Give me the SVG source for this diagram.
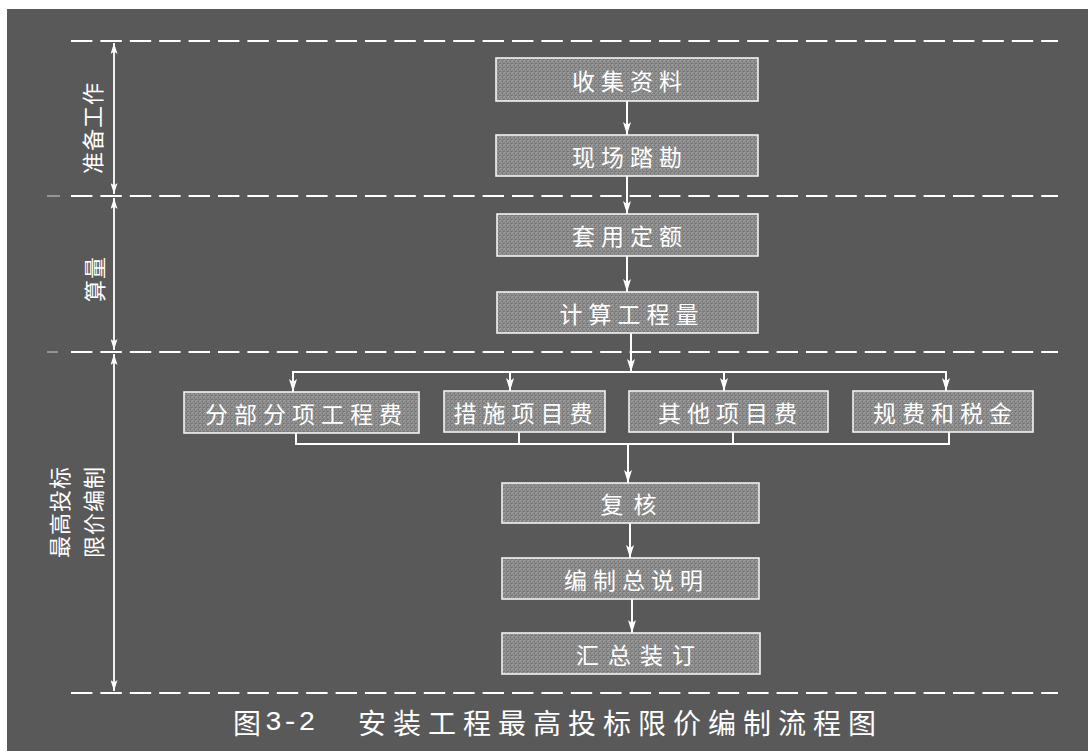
<svg xmlns="http://www.w3.org/2000/svg" width="1088" height="751" viewBox="0 0 1088 751">
<style>
.dash{stroke:#ffffff;stroke-width:2.2;stroke-dasharray:21.4 8;fill:none}
.faint{stroke:#cfcfcf;stroke-width:1;fill:none}
.box{fill:url(#tex);stroke:#f2f2f2;stroke-width:1.6}
.bt{font-family:"Noto Sans CJK SC","Noto Sans CJK JP",sans-serif;font-size:23px;fill:#ffffff;text-anchor:middle;dominant-baseline:central;letter-spacing:6px}
.side{font-family:"Noto Sans CJK SC","Noto Sans CJK JP",sans-serif;font-size:22px;fill:#ffffff;text-anchor:middle;dominant-baseline:central;letter-spacing:1px}
.flow{stroke:#ffffff;stroke-width:2;fill:none}
.dim{stroke:#ffffff;stroke-width:1.8;fill:none}
.cap{font-family:"Noto Sans CJK SC","Noto Sans CJK JP",sans-serif;font-size:28px;fill:#ffffff;dominant-baseline:central}
</style>
<defs>
<pattern id="tex" width="4" height="4" patternUnits="userSpaceOnUse">
<rect width="4" height="4" fill="#8a8a8a"/>
<rect x="0" y="0" width="1" height="1" fill="#a6a6a6"/>
<rect x="2" y="1" width="1" height="1" fill="#6e6e6e"/>
<rect x="1" y="2" width="1" height="1" fill="#9e9e9e"/>
<rect x="3" y="3" width="1" height="1" fill="#747474"/>
<rect x="3" y="1" width="1" height="1" fill="#a0a0a0"/>
<rect x="0" y="3" width="1" height="1" fill="#7a7a7a"/>
</pattern>
<marker id="arr" viewBox="0 0 13 8" refX="13" refY="4" markerWidth="13" markerHeight="8" markerUnits="userSpaceOnUse" orient="auto">
<path d="M0,0 L13,4 L0,8 L3,4 z" fill="#ffffff"/>
</marker>
<marker id="darr" viewBox="0 0 11 7" refX="11" refY="3.5" markerWidth="11" markerHeight="7" markerUnits="userSpaceOnUse" orient="auto-start-reverse">
<path d="M0,0 L11,3.5 L0,7 L2.5,3.5 z" fill="#ffffff"/>
</marker>
</defs>
<rect x="7" y="9" width="1081" height="742" fill="#595959"/>

<g id="section-lines">
<line class="dash" x1="71" y1="41" x2="1058" y2="41"/>
<line class="dash" x1="71" y1="196" x2="1058" y2="196"/>
<line class="dash" x1="71" y1="352" x2="1058" y2="352"/>
<line class="dash" x1="71" y1="693" x2="1058" y2="693"/>
<line class="faint" x1="47" y1="196" x2="60" y2="196"/>
<line class="faint" x1="47" y1="352" x2="58" y2="352"/>
</g>

<g id="dimensions">
<line class="dim" x1="114" y1="43" x2="114" y2="194" marker-start="url(#darr)" marker-end="url(#darr)"/>
<line class="dim" x1="114" y1="198" x2="114" y2="350" marker-start="url(#darr)" marker-end="url(#darr)"/>
<line class="dim" x1="114" y1="354" x2="114" y2="691" marker-start="url(#darr)" marker-end="url(#darr)"/>
</g>

<g id="label-prep"><text class="side" transform="translate(91,128) rotate(-90)">准备工作</text></g>
<g id="label-qty"><text class="side" transform="translate(93,279) rotate(-90)">算量</text></g>
<g id="label-compile">
<text class="side" transform="translate(57.5,512) rotate(-90)">最高投标</text>
<text class="side" transform="translate(91.5,512) rotate(-90)">限价编制</text>
</g>

<g id="connectors">
<line class="flow" x1="627" y1="101" x2="627" y2="135" marker-end="url(#arr)"/>
<line class="flow" x1="627" y1="176" x2="627" y2="214" marker-end="url(#arr)"/>
<line class="flow" x1="627" y1="256" x2="627" y2="292" marker-end="url(#arr)"/>
<line class="flow" x1="631" y1="333" x2="631" y2="372" marker-end="url(#arr)"/>
<line class="flow" x1="292" y1="372" x2="947" y2="372"/>
<line class="flow" x1="293" y1="372" x2="293" y2="392" marker-end="url(#arr)"/>
<line class="flow" x1="510" y1="372" x2="510" y2="391" marker-end="url(#arr)"/>
<line class="flow" x1="724" y1="372" x2="724" y2="391" marker-end="url(#arr)"/>
<line class="flow" x1="946" y1="372" x2="946" y2="391" marker-end="url(#arr)"/>
<polyline class="flow" points="296,433 296,444 949,444 949,432"/>
<line class="flow" x1="519" y1="432" x2="519" y2="444"/>
<line class="flow" x1="733" y1="432" x2="733" y2="444"/>
<line class="flow" x1="628" y1="444" x2="628" y2="483" marker-end="url(#arr)"/>
<line class="flow" x1="630" y1="523" x2="630" y2="558" marker-end="url(#arr)"/>
<line class="flow" x1="632" y1="599" x2="632" y2="633" marker-end="url(#arr)"/>
</g>

<g id="n-collect"><rect class="box" x="496" y="58" width="262" height="43"/><text class="bt" x="630" y="80">收集资料</text></g>
<g id="n-survey"><rect class="box" x="496" y="135" width="262" height="41"/><text class="bt" x="630" y="156">现场踏勘</text></g>
<g id="n-quota"><rect class="box" x="497" y="214" width="261" height="42"/><text class="bt" x="630" y="235">套用定额</text></g>
<g id="n-calc"><rect class="box" x="497" y="292" width="261" height="41"/><text class="bt" x="632" y="312.5">计算工程量</text></g>
<g id="n-sub"><rect class="box" x="184" y="392" width="235" height="41"/><text class="bt" x="306.5" y="412.5">分部分项工程费</text></g>
<g id="n-measure"><rect class="box" x="444" y="391" width="161" height="41"/><text class="bt" x="526" y="412">措施项目费</text></g>
<g id="n-other"><rect class="box" x="629" y="391" width="199" height="41"/><text class="bt" x="730.5" y="412">其他项目费</text></g>
<g id="n-fee"><rect class="box" x="853" y="391" width="180" height="41"/><text class="bt" x="945.5" y="412">规费和税金</text></g>
<g id="n-review"><rect class="box" x="502" y="483" width="257" height="40"/><text class="bt" x="633.5" y="503" style="letter-spacing:10px">复核</text></g>
<g id="n-explain"><rect class="box" x="502" y="558" width="257" height="41"/><text class="bt" x="636.5" y="578.5">编制总说明</text></g>
<g id="n-bind"><rect class="box" x="502" y="633" width="258" height="41"/><text class="bt" x="640" y="653.5" style="letter-spacing:9px">汇总装订</text></g>

<g id="caption">
<text class="cap" x="233" y="722">图</text>
<text class="cap" x="265" y="722" style="font-family:'Liberation Mono',monospace">3-2</text>
<text class="cap" x="358" y="722" style="letter-spacing:7px">安装工程最高投标限价编制流程图</text>
</g>
</svg>
